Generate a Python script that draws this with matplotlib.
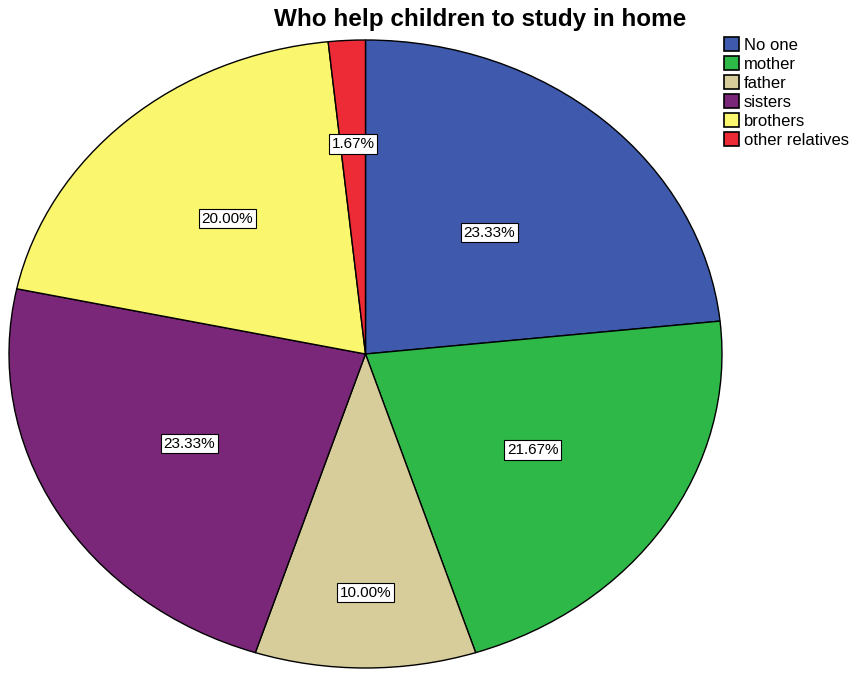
import numpy as np
import matplotlib.pyplot as plt
from matplotlib.patches import Patch

plt.rcParams['font.family'] = ['Liberation Sans', 'DejaVu Sans']

labels = ["No one", "mother", "father", "sisters", "brothers", "other relatives"]
values = [23.33, 21.67, 10.00, 23.33, 20.00, 1.67]
colors = ["#3F5AAD", "#2EB848", "#D6CD9B", "#7B2779", "#FAF76E", "#EC2B36"]
# where each percent box sits, as a fraction of the radius
label_dist = [0.52, 0.56, 0.76, 0.57, 0.58, 0.67]


def plot_pie():
    fig = plt.figure(figsize=(8.49, 6.74), dpi=100)
    ax = fig.add_axes([9 / 849, 6 / 674, 713 / 849, 628 / 674])

    wedges, _ = ax.pie(values, colors=colors, startangle=90, counterclock=False,
                       wedgeprops=dict(edgecolor="black", linewidth=1.0))
    ax.set_aspect('auto')
    ax.set_xlim(-1, 1)
    ax.set_ylim(-1, 1)

    for w, v, d in zip(wedges, values, label_dist):
        ang = np.deg2rad((w.theta1 + w.theta2) / 2)
        ax.text(d * np.cos(ang), d * np.sin(ang), f"{v:.2f}%",
                ha="center", va="center", fontsize=11,
                bbox=dict(facecolor="white", edgecolor="black", linewidth=0.8, pad=2.0))

    fig.text(0.565, 0.971, "Who help children to study in home", ha="center", va="center",
             fontsize=17.5, fontweight="bold")

    handles = [Patch(facecolor=c, edgecolor="black", linewidth=1.2, label=l)
               for c, l in zip(colors, labels)]
    fig.legend(handles=handles, loc="upper left", bbox_to_anchor=(724 / 849, 0.945),
               frameon=False, fontsize=12, handlelength=0.9, handleheight=0.9,
               handletextpad=0.3, labelspacing=0.2, borderaxespad=0, borderpad=0)

    fig.savefig("out.png", dpi=100)


def main():
    plot_pie()


if __name__ == '__main__':
    main()
